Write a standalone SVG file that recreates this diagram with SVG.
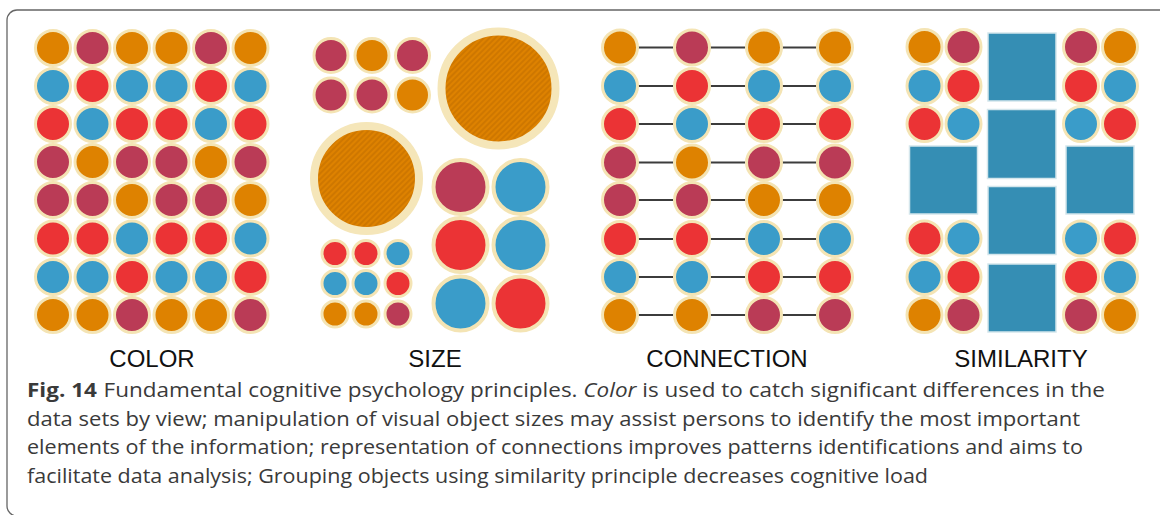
<svg xmlns="http://www.w3.org/2000/svg" width="1160" height="515" viewBox="0 0 1160 515">
<style>
circle{stroke:#F4E4B4;stroke-width:3}
.o{fill:#DE8200}.m{fill:#BA3B56}.b{fill:#3A9CC9}.r{fill:#EB3335}
.big{stroke:#F5E6B9;stroke-width:8;fill:url(#hatch)}
.sq{fill:#358EB4;stroke:#D4E6EC;stroke-width:1.5}
.lbl{font-family:"Liberation Sans",Arial,sans-serif;font-size:24px;fill:#111;text-anchor:middle}
.cap{font-family:"Open Sans","Noto Sans",sans-serif;font-size:20px;fill:#3A3A3A}
.cn line{stroke:#3C3C3C;stroke-width:2.2}
</style>
<defs>
<pattern id="hatch" patternUnits="userSpaceOnUse" width="4" height="4" patternTransform="rotate(-45)">
<rect width="4" height="4" fill="#DE8200"/>
<line x1="0" y1="1" x2="4" y2="1" stroke="#C46F00" stroke-width="1.2"/>
</pattern>
</defs>
<rect x="7" y="10" width="1200" height="506" rx="10" fill="none" stroke="#666" stroke-width="1.3"/>

<g id="color">
<circle class="o" cx="53" cy="48" r="17.5"/><circle class="m" cx="92.5" cy="48" r="17.5"/><circle class="o" cx="132" cy="48" r="17.5"/><circle class="o" cx="171.5" cy="48" r="17.5"/><circle class="m" cx="211" cy="48" r="17.5"/><circle class="o" cx="250.5" cy="48" r="17.5"/>
<circle class="b" cx="53" cy="86" r="17.5"/><circle class="r" cx="92.5" cy="86" r="17.5"/><circle class="b" cx="132" cy="86" r="17.5"/><circle class="b" cx="171.5" cy="86" r="17.5"/><circle class="r" cx="211" cy="86" r="17.5"/><circle class="b" cx="250.5" cy="86" r="17.5"/>
<circle class="r" cx="53" cy="124" r="17.5"/><circle class="b" cx="92.5" cy="124" r="17.5"/><circle class="r" cx="132" cy="124" r="17.5"/><circle class="r" cx="171.5" cy="124" r="17.5"/><circle class="b" cx="211" cy="124" r="17.5"/><circle class="r" cx="250.5" cy="124" r="17.5"/>
<circle class="m" cx="53" cy="162" r="17.5"/><circle class="o" cx="92.5" cy="162" r="17.5"/><circle class="m" cx="132" cy="162" r="17.5"/><circle class="m" cx="171.5" cy="162" r="17.5"/><circle class="o" cx="211" cy="162" r="17.5"/><circle class="m" cx="250.5" cy="162" r="17.5"/>
<circle class="m" cx="53" cy="200" r="17.5"/><circle class="m" cx="92.5" cy="200" r="17.5"/><circle class="o" cx="132" cy="200" r="17.5"/><circle class="m" cx="171.5" cy="200" r="17.5"/><circle class="m" cx="211" cy="200" r="17.5"/><circle class="o" cx="250.5" cy="200" r="17.5"/>
<circle class="r" cx="53" cy="238.5" r="17.5"/><circle class="r" cx="92.5" cy="238.5" r="17.5"/><circle class="b" cx="132" cy="238.5" r="17.5"/><circle class="r" cx="171.5" cy="238.5" r="17.5"/><circle class="r" cx="211" cy="238.5" r="17.5"/><circle class="b" cx="250.5" cy="238.5" r="17.5"/>
<circle class="b" cx="53" cy="277" r="17.5"/><circle class="b" cx="92.5" cy="277" r="17.5"/><circle class="r" cx="132" cy="277" r="17.5"/><circle class="b" cx="171.5" cy="277" r="17.5"/><circle class="b" cx="211" cy="277" r="17.5"/><circle class="r" cx="250.5" cy="277" r="17.5"/>
<circle class="o" cx="53" cy="315" r="17.5"/><circle class="o" cx="92.5" cy="315" r="17.5"/><circle class="m" cx="132" cy="315" r="17.5"/><circle class="o" cx="171.5" cy="315" r="17.5"/><circle class="o" cx="211" cy="315" r="17.5"/><circle class="m" cx="250.5" cy="315" r="17.5"/>
</g>

<g id="size">
<circle class="m" cx="331" cy="55.5" r="17"/><circle class="o" cx="372" cy="55.5" r="17"/><circle class="m" cx="412.5" cy="55.5" r="17"/>
<circle class="m" cx="331" cy="95" r="17"/><circle class="m" cx="372" cy="95" r="17"/><circle class="o" cx="412.5" cy="95" r="17"/>
<circle class="big" cx="498.5" cy="88.5" r="57"/>
<circle class="big" cx="366.5" cy="178.5" r="52.5"/>
<circle class="r" cx="335" cy="253.5" r="13"/><circle class="r" cx="366" cy="253.5" r="13"/><circle class="b" cx="398" cy="253.5" r="13"/>
<circle class="b" cx="335" cy="283.5" r="13"/><circle class="b" cx="366" cy="283.5" r="13"/><circle class="r" cx="398" cy="283.5" r="13"/>
<circle class="o" cx="335" cy="314" r="13"/><circle class="o" cx="366" cy="314" r="13"/><circle class="m" cx="398" cy="314" r="13"/>
<circle class="m" cx="460.5" cy="187" r="27" style="stroke-width:4"/><circle class="b" cx="520.5" cy="187" r="27" style="stroke-width:4"/>
<circle class="r" cx="460.5" cy="245" r="27" style="stroke-width:4"/><circle class="b" cx="520.5" cy="245" r="27" style="stroke-width:4"/>
<circle class="b" cx="460.5" cy="303.5" r="27" style="stroke-width:4"/><circle class="r" cx="520.5" cy="303.5" r="27" style="stroke-width:4"/>
</g>

<g id="connectors" class="cn">
<line x1="638" y1="47.5" x2="673" y2="47.5"/><line x1="710" y1="47.5" x2="745" y2="47.5"/><line x1="782" y1="47.5" x2="816" y2="47.5"/>
<line x1="638" y1="86" x2="673" y2="86"/><line x1="710" y1="86" x2="745" y2="86"/><line x1="782" y1="86" x2="816" y2="86"/>
<line x1="638" y1="124" x2="673" y2="124"/><line x1="710" y1="124" x2="745" y2="124"/><line x1="782" y1="124" x2="816" y2="124"/>
<line x1="638" y1="162.5" x2="673" y2="162.5"/><line x1="710" y1="162.5" x2="745" y2="162.5"/><line x1="782" y1="162.5" x2="816" y2="162.5"/>
<line x1="638" y1="200" x2="673" y2="200"/><line x1="710" y1="200" x2="745" y2="200"/><line x1="782" y1="200" x2="816" y2="200"/>
<line x1="638" y1="239" x2="673" y2="239"/><line x1="710" y1="239" x2="745" y2="239"/><line x1="782" y1="239" x2="816" y2="239"/>
<line x1="638" y1="277" x2="673" y2="277"/><line x1="710" y1="277" x2="745" y2="277"/><line x1="782" y1="277" x2="816" y2="277"/>
<line x1="638" y1="315" x2="673" y2="315"/><line x1="710" y1="315" x2="745" y2="315"/><line x1="782" y1="315" x2="816" y2="315"/>
</g>

<g id="connection">
<circle class="o" cx="620" cy="47.5" r="17.5"/><circle class="m" cx="692" cy="47.5" r="17.5"/><circle class="o" cx="764" cy="47.5" r="17.5"/><circle class="o" cx="835" cy="47.5" r="17.5"/>
<circle class="b" cx="620" cy="86" r="17.5"/><circle class="r" cx="692" cy="86" r="17.5"/><circle class="b" cx="764" cy="86" r="17.5"/><circle class="b" cx="835" cy="86" r="17.5"/>
<circle class="r" cx="620" cy="124" r="17.5"/><circle class="b" cx="692" cy="124" r="17.5"/><circle class="r" cx="764" cy="124" r="17.5"/><circle class="r" cx="835" cy="124" r="17.5"/>
<circle class="m" cx="620" cy="162.5" r="17.5"/><circle class="o" cx="692" cy="162.5" r="17.5"/><circle class="m" cx="764" cy="162.5" r="17.5"/><circle class="m" cx="835" cy="162.5" r="17.5"/>
<circle class="m" cx="620" cy="200" r="17.5"/><circle class="m" cx="692" cy="200" r="17.5"/><circle class="o" cx="764" cy="200" r="17.5"/><circle class="o" cx="835" cy="200" r="17.5"/>
<circle class="r" cx="620" cy="239" r="17.5"/><circle class="r" cx="692" cy="239" r="17.5"/><circle class="b" cx="764" cy="239" r="17.5"/><circle class="b" cx="835" cy="239" r="17.5"/>
<circle class="b" cx="620" cy="277" r="17.5"/><circle class="b" cx="692" cy="277" r="17.5"/><circle class="r" cx="764" cy="277" r="17.5"/><circle class="r" cx="835" cy="277" r="17.5"/>
<circle class="o" cx="620" cy="315" r="17.5"/><circle class="o" cx="692" cy="315" r="17.5"/><circle class="m" cx="764" cy="315" r="17.5"/><circle class="m" cx="835" cy="315" r="17.5"/>
</g>

<g id="similarity">
<circle class="o" cx="924.5" cy="47" r="17.5"/><circle class="m" cx="963.5" cy="47" r="17.5"/>
<circle class="b" cx="924.5" cy="86" r="17.5"/><circle class="r" cx="963.5" cy="86" r="17.5"/>
<circle class="r" cx="924.5" cy="124" r="17.5"/><circle class="b" cx="963.5" cy="124" r="17.5"/>
<circle class="m" cx="1081" cy="47" r="17.5"/><circle class="o" cx="1120" cy="47" r="17.5"/>
<circle class="r" cx="1081" cy="86" r="17.5"/><circle class="b" cx="1120" cy="86" r="17.5"/>
<circle class="b" cx="1081" cy="124" r="17.5"/><circle class="r" cx="1120" cy="124" r="17.5"/>
<circle class="r" cx="924.5" cy="238.5" r="17.5"/><circle class="b" cx="963.5" cy="238.5" r="17.5"/>
<circle class="b" cx="924.5" cy="277" r="17.5"/><circle class="r" cx="963.5" cy="277" r="17.5"/>
<circle class="o" cx="924.5" cy="315" r="17.5"/><circle class="m" cx="963.5" cy="315" r="17.5"/>
<circle class="b" cx="1081" cy="238.5" r="17.5"/><circle class="r" cx="1120" cy="238.5" r="17.5"/>
<circle class="r" cx="1081" cy="277" r="17.5"/><circle class="b" cx="1120" cy="277" r="17.5"/>
<circle class="m" cx="1081" cy="315" r="17.5"/><circle class="o" cx="1120" cy="315" r="17.5"/>
<rect class="sq" x="988" y="33" width="68" height="68"/>
<rect class="sq" x="987.5" y="109.5" width="68.5" height="69"/>
<rect class="sq" x="988" y="186.5" width="68" height="68"/>
<rect class="sq" x="988" y="264" width="68" height="68"/>
<rect class="sq" x="909.5" y="146" width="68" height="68"/>
<rect class="sq" x="1066" y="146" width="68" height="68"/>
</g>

<g id="labels">
<text class="lbl" x="152" y="367">COLOR</text>
<text class="lbl" x="435" y="367">SIZE</text>
<text class="lbl" x="727" y="367">CONNECTION</text>
<text class="lbl" x="1021" y="367">SIMILARITY</text>
</g>

<g id="caption">
<text class="cap" x="27" y="397" textLength="1078" lengthAdjust="spacingAndGlyphs"><tspan font-weight="bold">Fig. 14</tspan><tspan dx="6">Fundamental cognitive psychology principles. </tspan><tspan font-style="italic">Color</tspan> is used to catch significant differences in the</text>
<text class="cap" x="27" y="425.5" textLength="1053" lengthAdjust="spacingAndGlyphs">data sets by view; manipulation of visual object sizes may assist persons to identify the most important</text>
<text class="cap" x="27" y="454" textLength="1056" lengthAdjust="spacingAndGlyphs">elements of the information; representation of connections improves patterns identifications and aims to</text>
<text class="cap" x="27" y="482.5" textLength="901" lengthAdjust="spacingAndGlyphs">facilitate data analysis; Grouping objects using similarity principle decreases cognitive load</text>
</g>
</svg>
